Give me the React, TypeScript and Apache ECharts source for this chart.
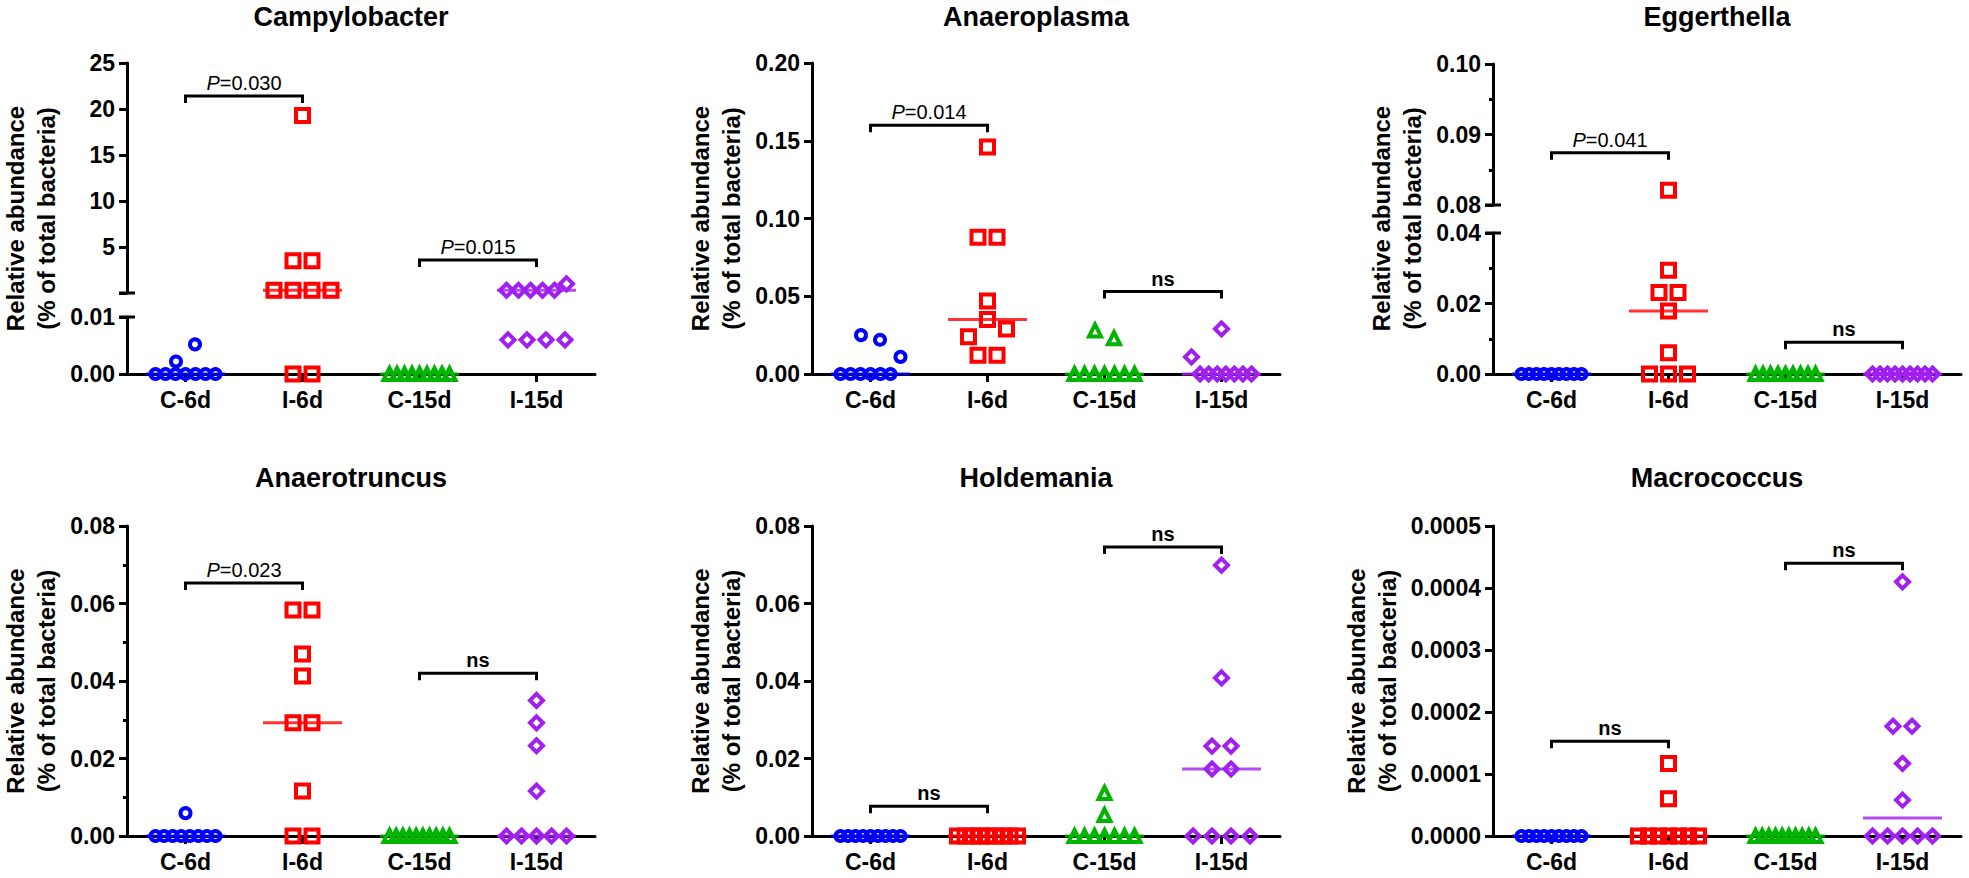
import React, { useEffect, useRef } from 'react';
import * as echarts from 'echarts';

// ---------------- data ----------------
const CATEGORIES = ['C-6d', 'I-6d', 'C-15d', 'I-15d'];
const Y_NAME_LINES = ['Relative abundance', '(% of total bacteria)'];

// Campylobacter (% of total bacteria)
const campylobacterC6d = [0.0022, 0, 0, 0, 0, 0, 0, 0, 0.0052];
const campylobacterI6d = [19.3, 3.5, 3.5, 0.3, 0.3, 0.3, 0.3, 0, 0];
const campylobacterC15d = [0, 0, 0, 0, 0, 0, 0, 0, 0];
const campylobacterI15d = [0.3, 0.3, 0.3, 0.3, 0.3, 1.0, 0.006, 0.006, 0.006, 0.006];

// Anaeroplasma
const anaeroplasmaC6d = [0.025, 0.022, 0, 0, 0, 0, 0, 0, 0.011];
const anaeroplasmaI6d = [0.146, 0.088, 0.088, 0.047, 0.024, 0.035, 0.029, 0.012, 0.012];
const anaeroplasmaC15d = [0.028, 0.023, 0, 0, 0, 0, 0, 0, 0];
const anaeroplasmaI15d = [0.029, 0.011, 0, 0, 0, 0, 0, 0, 0];

// Eggerthella
const eggerthellaC6d = [0, 0, 0, 0, 0, 0, 0, 0, 0];
const eggerthellaI6d = [0.0821, 0.0294, 0.0231, 0.0231, 0.0179, 0.006, 0, 0, 0];
const eggerthellaC15d = [0, 0, 0, 0, 0, 0, 0, 0, 0];
const eggerthellaI15d = [0, 0, 0, 0, 0, 0, 0, 0, 0];

// Anaerotruncus
const anaerotruncusC6d = [0.0059, 0, 0, 0, 0, 0, 0, 0, 0];
const anaerotruncusI6d = [0.0583, 0.0583, 0.047, 0.0413, 0.0292, 0.0292, 0.0116, 0, 0];
const anaerotruncusC15d = [0, 0, 0, 0, 0, 0, 0, 0, 0, 0];
const anaerotruncusI15d = [0.035, 0.0292, 0.0233, 0.0116, 0, 0, 0, 0, 0];

// Holdemania
const holdemaniaC6d = [0, 0, 0, 0, 0, 0, 0, 0, 0];
const holdemaniaI6d = [0, 0, 0, 0, 0, 0, 0, 0, 0];
const holdemaniaC15d = [0.0111, 0.0054, 0, 0, 0, 0, 0, 0, 0];
const holdemaniaI15d = [0.0699, 0.0408, 0.0232, 0.0232, 0.0173, 0.0173, 0, 0, 0, 0];

// Macrococcus
const macrococcusC6d = [0, 0, 0, 0, 0, 0, 0, 0, 0];
const macrococcusI6d = [0.000117, 0.00006, 0, 0, 0, 0, 0, 0, 0];
const macrococcusC15d = [0, 0, 0, 0, 0, 0, 0, 0, 0, 0];
const macrococcusI15d = [0.00041, 0.000177, 0.000177, 0.000117, 0.000058, 0, 0, 0, 0, 0];

// significance brackets: from group, to group, height (data units), text
const campylobacterBrackets = [
  { from: 0, to: 1, y: 21.4, text: 'P=0.030' },
  { from: 2, to: 3, y: 3.6, text: 'P=0.015' },
];
const anaeroplasmaBrackets = [
  { from: 0, to: 1, y: 0.16, text: 'P=0.014' },
  { from: 2, to: 3, y: 0.053, text: 'ns' },
];
const eggerthellaBrackets = [
  { from: 0, to: 1, y: 0.0874, text: 'P=0.041' },
  { from: 2, to: 3, y: 0.009, text: 'ns' },
];
const anaerotruncusBrackets = [
  { from: 0, to: 1, y: 0.0653, text: 'P=0.023' },
  { from: 2, to: 3, y: 0.042, text: 'ns' },
];
const holdemaniaBrackets = [
  { from: 0, to: 1, y: 0.0077, text: 'ns' },
  { from: 2, to: 3, y: 0.0746, text: 'ns' },
];
const macrococcusBrackets = [
  { from: 0, to: 1, y: 0.000153, text: 'ns' },
  { from: 2, to: 3, y: 0.00044, text: 'ns' },
];

type Seg = { min: number; max: number; interval: number; decimals: number; minor?: boolean; hideMin?: boolean };
type Bracket = { from: number; to: number; y: number; text: string };
type Panel = { title: string; groups: number[][]; segments: Seg[]; splitAt?: number; brackets: Bracket[] };

const PANELS: Panel[] = [
  {
    title: 'Campylobacter',
    groups: [campylobacterC6d, campylobacterI6d, campylobacterC15d, campylobacterI15d],
    segments: [
      { min: 0, max: 0.01, interval: 0.01, decimals: 2 },
      { min: 0, max: 25, interval: 5, decimals: 0, hideMin: true },
    ],
    splitAt: 0.05,
    brackets: campylobacterBrackets,
  },
  {
    title: 'Anaeroplasma',
    groups: [anaeroplasmaC6d, anaeroplasmaI6d, anaeroplasmaC15d, anaeroplasmaI15d],
    segments: [{ min: 0, max: 0.2, interval: 0.05, decimals: 2 }],
    brackets: anaeroplasmaBrackets,
  },
  {
    title: 'Eggerthella',
    groups: [eggerthellaC6d, eggerthellaI6d, eggerthellaC15d, eggerthellaI15d],
    segments: [
      { min: 0, max: 0.04, interval: 0.02, decimals: 2, minor: true },
      { min: 0.08, max: 0.1, interval: 0.01, decimals: 2, minor: true },
    ],
    splitAt: 0.06,
    brackets: eggerthellaBrackets,
  },
  {
    title: 'Anaerotruncus',
    groups: [anaerotruncusC6d, anaerotruncusI6d, anaerotruncusC15d, anaerotruncusI15d],
    segments: [{ min: 0, max: 0.08, interval: 0.02, decimals: 2, minor: true }],
    brackets: anaerotruncusBrackets,
  },
  {
    title: 'Holdemania',
    groups: [holdemaniaC6d, holdemaniaI6d, holdemaniaC15d, holdemaniaI15d],
    segments: [{ min: 0, max: 0.08, interval: 0.02, decimals: 2 }],
    brackets: holdemaniaBrackets,
  },
  {
    title: 'Macrococcus',
    groups: [macrococcusC6d, macrococcusI6d, macrococcusC15d, macrococcusI15d],
    segments: [{ min: 0, max: 0.0005, interval: 0.0001, decimals: 4 }],
    brackets: macrococcusBrackets,
  },
];

// ---------------- layout & style ----------------
const FONT = '"Liberation Sans", Arial, Helvetica, sans-serif';
const GROUP_COLORS = ['#0000ff', '#ff0000', '#00b400', '#a020f0'];
const GROUP_SYMBOLS = ['circle', 'rect', 'triangle', 'diamond'];
const GROUP_SYMBOL_SIZES = [10, 13, 12, 13];
const MARKER_STROKE = 4;
const MEDIAN_WIDTH = 79;

const COL_LEFT = [127, 812, 1493];
const PLOT_WIDTH = 468;
const ROWS = [
  { top: 63, bottom: 374, titleY: 17 },
  { top: 526, bottom: 836, titleY: 478 },
];
// segment pixel spans listed bottom segment first
const PANEL_LAYOUT = [
  { col: 0, row: 0, segs: [[317, 374], [63, 293]], nameOffset: 96 },
  { col: 1, row: 0, segs: [[63, 374]], nameOffset: 96 },
  { col: 2, row: 0, segs: [[233, 374], [64, 205]], nameOffset: 96 },
  { col: 0, row: 1, segs: [[526, 836]], nameOffset: 96 },
  { col: 1, row: 1, segs: [[526, 836]], nameOffset: 96 },
  { col: 2, row: 1, segs: [[526, 836]], nameOffset: 121 },
];
const NAME_LINE_GAP = 31;

const ROW_GAP = 18; // px: points closer than this share a row
const PAIR_STEP = 19; // px between neighbours in a row
const MAX_SPREAD = 60; // px max spread of a row

function median(vals: number[]) {
  const s = [...vals].sort((a, b) => a - b);
  const n = s.length;
  return n % 2 ? s[(n - 1) / 2] : (s[n / 2 - 1] + s[n / 2]) / 2;
}

// simple row-based swarm: horizontal offsets (px) for points that would overlap
function swarm(vals: number[], ppu: number): number[] {
  const order = vals.map((_, i) => i).sort((a, b) => vals[b] - vals[a] || a - b);
  const rows: number[][] = [];
  let cur: number[] = [];
  let startPx = 0;
  for (const i of order) {
    const px = vals[i] * ppu;
    if (cur.length && startPx - px < ROW_GAP) cur.push(i);
    else {
      if (cur.length) rows.push(cur);
      cur = [i];
      startPx = px;
    }
  }
  if (cur.length) rows.push(cur);
  const off = new Array(vals.length).fill(0);
  for (const row of rows) {
    row.sort((a, b) => a - b);
    const k = row.length;
    if (k < 2) continue;
    const step = Math.min(PAIR_STEP, MAX_SPREAD / (k - 1));
    row.forEach((i, r) => {
      off[i] = (r - (k - 1) / 2) * step;
    });
  }
  return off;
}

function segIndexOf(panel: Panel, v: number) {
  return panel.segments.length > 1 && v >= (panel.splitAt as number) ? 1 : 0;
}

function buildOption() {
  const grid: any[] = [];
  const xAxis: any[] = [];
  const yAxis: any[] = [];
  const series: any[] = [];
  const graphic: any[] = [];

  PANELS.forEach((panel, pi) => {
    const lay = PANEL_LAYOUT[pi];
    const left = COL_LEFT[lay.col];
    const row = ROWS[lay.row];
    const broken = panel.segments.length > 1;

    const gridIds = panel.segments.map((seg, si) => {
      const [top, bottom] = lay.segs[si];
      const gi = grid.length;
      grid.push({ left, top, width: PLOT_WIDTH, height: bottom - top, show: false, containLabel: false, outerBoundsMode: 'none' });
      const showX = si === 0;
      xAxis.push({
        gridIndex: gi,
        type: 'category',
        data: CATEGORIES,
        show: showX,
        boundaryGap: true,
        axisLine: { show: showX, onZero: false, lineStyle: { color: '#000', width: 3 } },
        axisTick: { show: showX, alignWithLabel: true, length: 8, lineStyle: { color: '#000', width: 3 } },
        axisLabel: { show: showX, interval: 0, margin: 14, color: '#000', fontSize: 23, fontWeight: 'bold', fontFamily: FONT },
        splitLine: { show: false },
      });
      yAxis.push({
        gridIndex: gi,
        type: 'value',
        min: seg.min,
        max: seg.max,
        interval: seg.interval,
        axisLine: { show: true, onZero: false, lineStyle: { color: '#000', width: 3 } },
        axisTick: { show: true, length: 8, lineStyle: { color: '#000', width: 3 } },
        minorTick: { show: !!seg.minor, splitNumber: 2, length: 4, lineStyle: { color: '#000', width: 3 } },
        axisLabel: {
          show: true,
          margin: 12,
          color: '#000',
          fontSize: 23,
          lineHeight: 18,
          fontWeight: 'bold',
          fontFamily: FONT,
          formatter: (v: number) => (seg.hideMin && Math.abs(v - seg.min) < 1e-12 ? '' : v.toFixed(seg.decimals)),
        },
        splitLine: { show: false },
        minorSplitLine: { show: false },
      });
      return gi;
    });

    // data points and medians
    panel.groups.forEach((vals, k) => {
      panel.segments.forEach((seg, si) => {
        const inSeg = vals.filter((v) => segIndexOf(panel, v) === si);
        if (!inSeg.length) return;
        const [top, bottom] = lay.segs[si];
        const ppu = (bottom - top) / (seg.max - seg.min);
        const offs = swarm(inSeg.map((v) => v - seg.min), ppu);
        series.push({
          type: 'scatter',
          xAxisIndex: gridIds[si],
          yAxisIndex: gridIds[si],
          symbol: GROUP_SYMBOLS[k],
          symbolSize: GROUP_SYMBOL_SIZES[k],
          itemStyle: { color: 'rgba(255,255,255,0)', borderColor: GROUP_COLORS[k], borderWidth: MARKER_STROKE, opacity: 1 },
          data: inSeg.map((v, i) => ({ value: [k, v], symbolOffset: [offs[i], 0] })),
          clip: false,
          silent: true,
          z: 3,
        });
      });
      const m = median(vals);
      const ms = segIndexOf(panel, m);
      series.push({
        type: 'scatter',
        xAxisIndex: gridIds[ms],
        yAxisIndex: gridIds[ms],
        symbol: 'rect',
        symbolSize: [MEDIAN_WIDTH, 3],
        itemStyle: { color: GROUP_COLORS[k] },
        data: [[k, m]],
        clip: false,
        silent: true,
        z: 4,
      });
    });

    // significance brackets
    panel.brackets.forEach((b) => {
      const si = segIndexOf(panel, b.y);
      const isP = b.text.startsWith('P');
      series.push({
        type: 'custom',
        xAxisIndex: gridIds[si],
        yAxisIndex: gridIds[si],
        clip: false,
        silent: true,
        z: 5,
        data: [[b.from, b.y, b.to]],
        encode: { x: 0, y: 1 },
        renderItem: (_params: any, api: any) => {
          const p1 = api.coord([api.value(0), api.value(1)]);
          const p2 = api.coord([api.value(2), api.value(1)]);
          const tip = 7;
          const textStyle: any = isP
            ? {
                text: `{i|P}{n|${b.text.slice(1)}}`,
                rich: {
                  i: { fontStyle: 'italic', fontSize: 20, fontFamily: FONT, fill: '#000' },
                  n: { fontSize: 20, fontFamily: FONT, fill: '#000' },
                },
              }
            : { text: b.text, fontSize: 20, fontWeight: 'bold', fontFamily: FONT };
          return {
            type: 'group',
            children: [
              {
                type: 'polyline',
                shape: { points: [[p1[0], p1[1] + tip], [p1[0], p1[1]], [p2[0], p2[1]], [p2[0], p2[1] + tip]] },
                style: { stroke: '#000', lineWidth: 3, fill: null },
              },
              {
                type: 'text',
                x: (p1[0] + p2[0]) / 2,
                y: p1[1] - 13,
                style: { ...textStyle, fill: '#000', align: 'center', verticalAlign: 'middle' },
              },
            ],
          };
        },
      });
    });

    // axis-break marks at the ends of the two segments
    if (broken) {
      [0, 1].forEach((si) => {
        series.push({
          type: 'custom',
          xAxisIndex: gridIds[si],
          yAxisIndex: gridIds[si],
          clip: false,
          silent: true,
          z: 5,
          data: [[0, panel.segments[si].min]],
          encode: { x: 0, y: 1 },
          renderItem: (params: any) => {
            const cs = params.coordSys;
            const y = si === 1 ? cs.y + cs.height : cs.y;
            return {
              type: 'line',
              shape: { x1: cs.x - 8, y1: y, x2: cs.x + 8, y2: y },
              style: { stroke: '#000', lineWidth: 3 },
            };
          },
        });
      });
    }

    // title
    graphic.push({
      type: 'text',
      x: left + PLOT_WIDTH / 2 - 10,
      y: row.titleY,
      style: { text: panel.title, fill: '#000', fontSize: 27, fontWeight: 'bold', fontFamily: FONT, align: 'center', verticalAlign: 'middle' },
    });
    // y-axis name: two rotated lines
    Y_NAME_LINES.forEach((line, li) => {
      graphic.push({
        type: 'text',
        x: left - lay.nameOffset + (li - 0.5) * NAME_LINE_GAP,
        y: (row.top + row.bottom) / 2,
        rotation: Math.PI / 2,
        style: {
          text: line,
          fill: '#000',
          fontSize: 24,
          fontWeight: 'bold',
          fontFamily: FONT,
          align: 'center',
          verticalAlign: 'middle',
        },
      });
    });
  });

  return {
    animation: false,
    backgroundColor: '#ffffff',
    grid,
    xAxis,
    yAxis,
    series,
    graphic,
  };
}

export default function App() {
  const ref = useRef<HTMLDivElement>(null);
  useEffect(() => {
    if (!ref.current) return;
    const chart = echarts.init(ref.current, undefined, { renderer: 'svg' });
    chart.setOption(buildOption() as any);
    return () => {
      chart.dispose();
    };
  }, []);
  return (
    <div
      ref={ref}
      style={{ position: 'absolute', left: 0, top: 0, width: 1969, height: 878, background: '#fff' }}
    />
  );
}
